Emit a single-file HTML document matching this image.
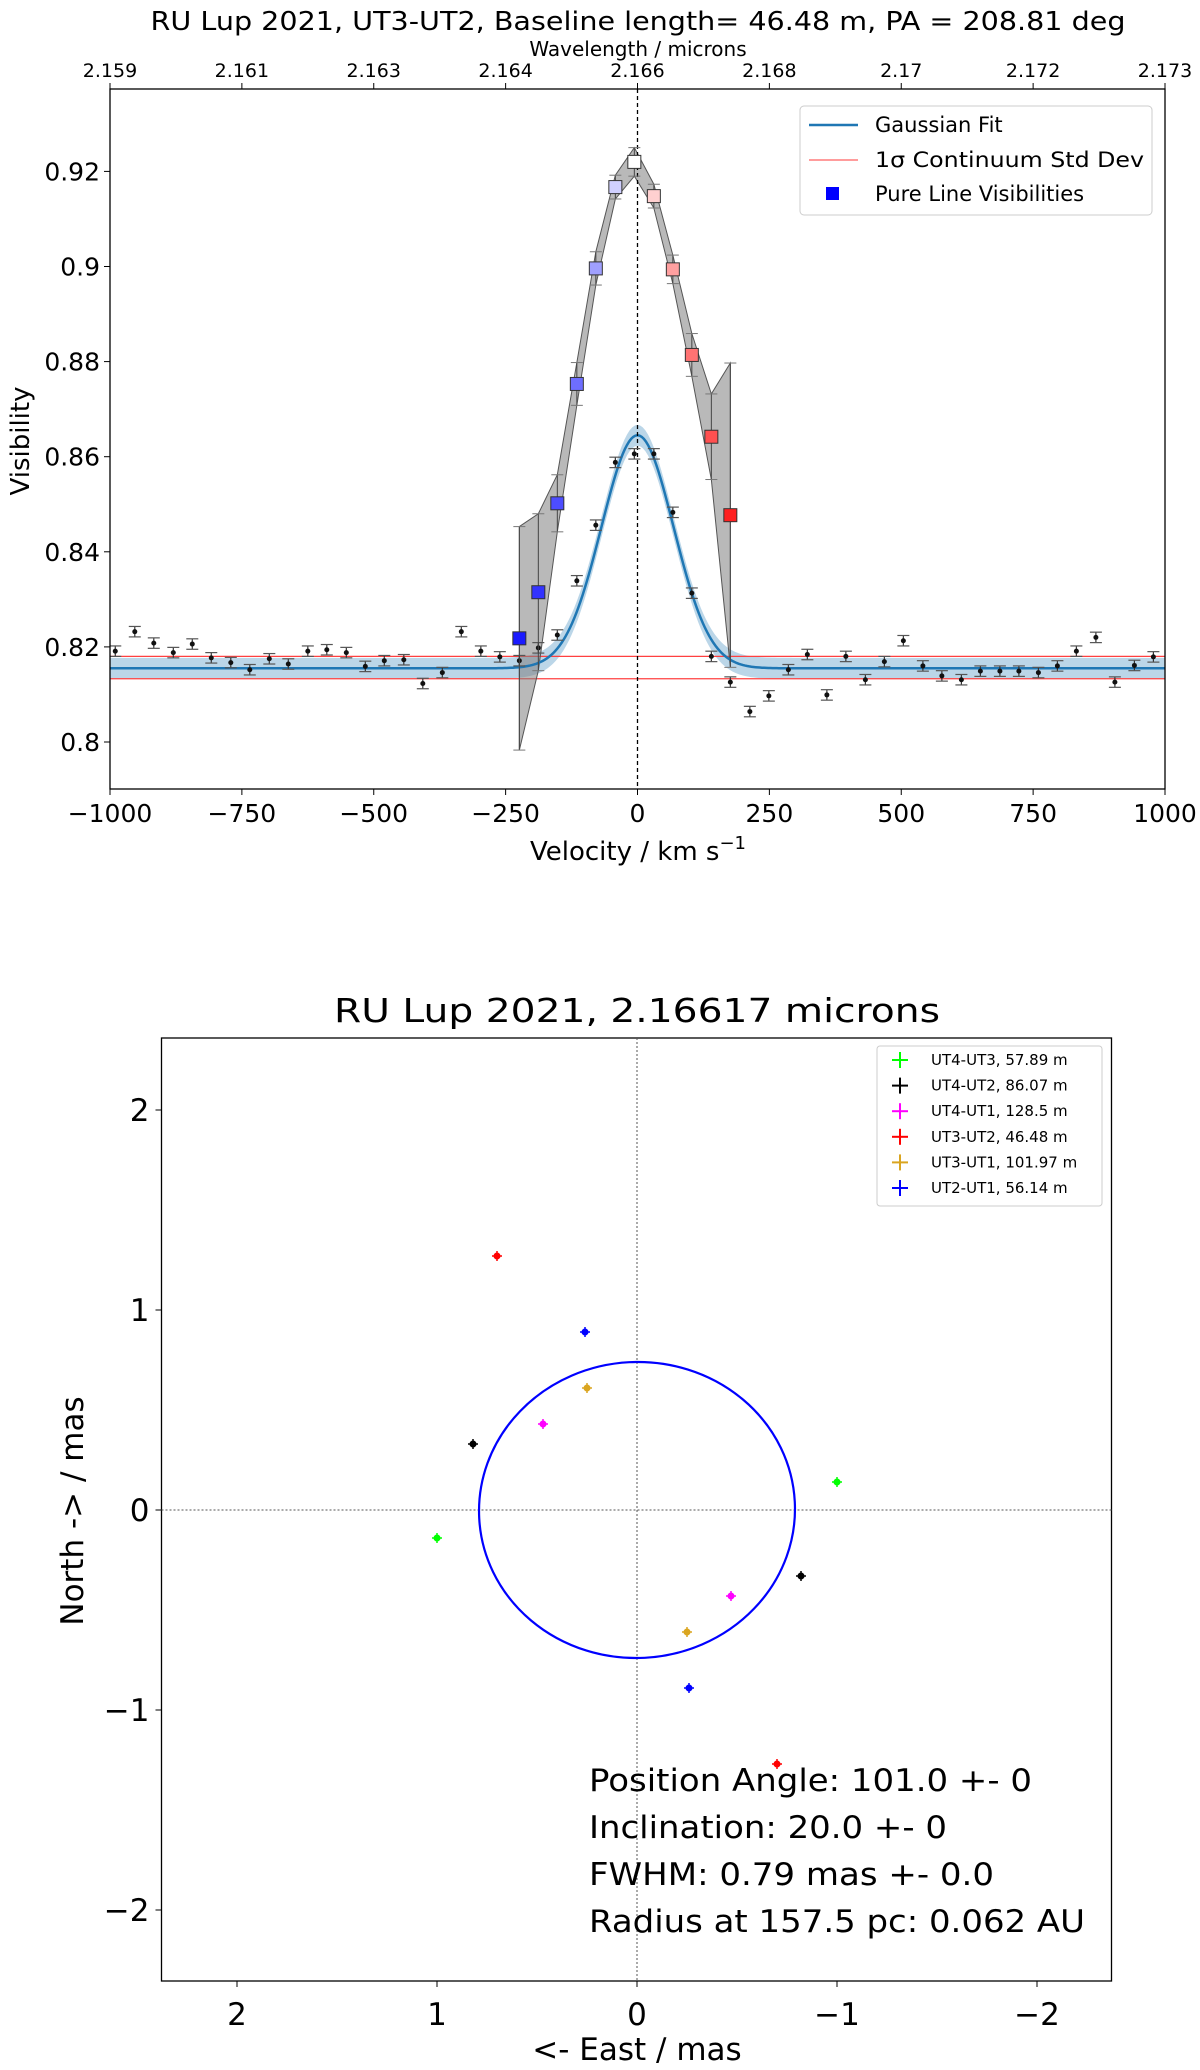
<!DOCTYPE html>
<html><head><meta charset="utf-8"><style>
html,body{margin:0;padding:0;background:#fff}
svg{display:block;font-family:"DejaVu Sans","Liberation Sans",sans-serif}
</style></head><body>
<svg id="fig" width="1200" height="2070" viewBox="0 0 1200 2070" xmlns="http://www.w3.org/2000/svg">
<g id="top"></g>
<g id="bot"></g>
</svg>
<script>
// ---- top chart data ----
const contVel = [-990,-953,-917,-880,-844,-808,-771,-735,-698,-662,-625,-589,-552,-516,-480,-443,-407,-370,-334,-297,-261,-224,-188,-152,-115,-79,-42,-6,31,67,103,140,176,213,249,286,322,359,395,432,468,504,541,577,614,650,687,723,760,796,832,869,905,942,978];
const contVis = [0.8191,0.8232,0.8208,0.8188,0.8206,0.8177,0.8167,0.8152,0.8175,0.8164,0.8191,0.8194,0.8188,0.8159,0.8171,0.8173,0.8123,0.8146,0.8232,0.8191,0.8179,0.8171,0.8198,0.8225,0.8339,0.8456,0.8588,0.8606,0.8606,0.8483,0.8313,0.8180,0.8126,0.8064,0.8097,0.8152,0.8184,0.8099,0.8180,0.8131,0.8169,0.8213,0.8160,0.8139,0.8131,0.8149,0.8149,0.8149,0.8146,0.8160,0.8191,0.8220,0.8126,0.8161,0.8179];
const contErr = 0.0011;
const lineVel = [-224,-188,-152,-115,-79,-42,-6,31,67,103,140,176];
const lineVis = [0.8218,0.8315,0.8502,0.8753,0.8996,0.9167,0.9220,0.9148,0.8994,0.8814,0.8642,0.8477];
const lineErr = [0.0235,0.0165,0.006,0.0045,0.0035,0.0025,0.003,0.0025,0.003,0.0045,0.009,0.032];
const lineColors = ['#1a1aff','#3333ff','#4d4dff','#6e6eff','#a0a0ff','#d0d0ff','#ffffff','#ffd0d0','#ffa0a0','#ff7373','#ff5050','#ff2020'];
const gaussBase = 0.8155, gaussAmp = 0.049, gaussSigma = 68.4, gaussBand = 0.0022;
const stdHi = 0.8180, stdLo = 0.8133;
const velTicks = [-1000,-750,-500,-250,0,250,500,750,1000];
const velTickLabels = ['\u22121000','\u2212750','\u2212500','\u2212250','0','250','500','750','1000'];
const waveTickLabels = ['2.159','2.161','2.163','2.164','2.166','2.168','2.17','2.172','2.173'];
const visTicks = [0.80,0.82,0.84,0.86,0.88,0.90,0.92];
const visTickLabels = ['0.8','0.82','0.84','0.86','0.88','0.9','0.92'];
// ---- bottom chart data ----
const baseNames = ['UT4-UT3, 57.89 m','UT4-UT2, 86.07 m','UT4-UT1, 128.5 m','UT3-UT2, 46.48 m','UT3-UT1, 101.97 m','UT2-UT1, 56.14 m'];
const baseColors = ['#00ff00','#000000','#ff00ff','#ff0000','#daa520','#0000ff'];
const ptEast = [-1.0,0.82,0.47,0.70,0.25,0.26];
const ptNorth = [0.14,0.33,0.43,1.27,0.61,0.89];
const ellA = 0.79, ellB = 0.74;
const posTicks = [2,1,0,-1,-2];
const posTickLabels = ['2','1','0','\u22121','\u22122'];

const NS='http://www.w3.org/2000/svg';
function mk(parent,tag,attrs,text){const e=document.createElementNS(NS,tag);for(const k in attrs)e.setAttribute(k,attrs[k]);if(text!==undefined)e.textContent=text;parent.appendChild(e);return e;}

// ===== TOP =====
const T=document.getElementById('top');
const L=110,R=1165,TP=89,BT=789;
const xV=v=>L+(v+1000)/2000*(R-L);
const yV=s=>742-(s-0.80)*4755;
let e;
e=mk(T,'text',{x:638,y:30,'font-size':26,'text-anchor':'middle',textLength:975,lengthAdjust:'spacingAndGlyphs'},'RU Lup 2021, UT3-UT2,  Baseline length= 46.48 m, PA = 208.81 deg');

e=mk(T,'text',{x:638,y:56,'font-size':20,'text-anchor':'middle'},'Wavelength / microns');

// clip
const defs=mk(T,'defs',{});const cp=mk(defs,'clipPath',{id:'c1'});mk(cp,'rect',{x:L,y:TP,width:R-L,height:BT-TP});
const P=mk(T,'g',{'clip-path':'url(#c1)'});
// std band + lines
let gb=[],gt=[];
for(let v=-1000;v<=1000;v+=5){const g=gaussBase+gaussAmp*Math.exp(-v*v/(2*gaussSigma*gaussSigma));gt.push(xV(v)+','+yV(g+gaussBand));gb.unshift(xV(v)+','+yV(g-gaussBand));}
e=mk(P,'polygon',{points:gt.concat(gb).join(' '),fill:'#1f77b4','fill-opacity':0.3});

e=mk(P,'line',{x1:L,x2:R,y1:yV(stdHi),y2:yV(stdHi),stroke:'#ff4040','stroke-width':1.2});

e=mk(P,'line',{x1:L,x2:R,y1:yV(stdLo),y2:yV(stdLo),stroke:'#ff4040','stroke-width':1.2});

// grey band
let ub=[],lb=[];
lineVel.forEach((v,i)=>{ub.push(xV(v)+','+yV(lineVis[i]+lineErr[i]));lb.unshift(xV(v)+','+yV(lineVis[i]-lineErr[i]));});
e=mk(P,'polygon',{points:ub.concat(lb).join(' '),fill:'#808080','fill-opacity':0.55,stroke:'#555','stroke-width':1});

// gaussian line
let gl=[];for(let v=-1000;v<=1000;v+=4){gl.push(xV(v)+','+yV(gaussBase+gaussAmp*Math.exp(-v*v/(2*gaussSigma*gaussSigma))));}
e=mk(P,'polyline',{points:gl.join(' '),fill:'none',stroke:'#1f77b4','stroke-width':2.5});

// dashed vertical
e=mk(P,'line',{x1:xV(0),x2:xV(0),y1:TP,y2:BT,stroke:'#000','stroke-width':1.3,'stroke-dasharray':'4,3'});

// continuum points
contVel.forEach((v,i)=>{
 const g=mk(P,'g',{});
 
 const x=xV(v),y1=yV(contVis[i]+contErr),y2=yV(contVis[i]-contErr);
 mk(g,'line',{x1:x,x2:x,y1:y1,y2:y2,stroke:'#333','stroke-width':1.2});
 mk(g,'line',{x1:x-6,x2:x+6,y1:y1,y2:y1,stroke:'#555','stroke-width':1.2});
 mk(g,'line',{x1:x-6,x2:x+6,y1:y2,y2:y2,stroke:'#555','stroke-width':1.2});
 mk(g,'circle',{cx:x,cy:yV(contVis[i]),r:2.5,fill:'#111'});
});
// line error caps + squares
lineVel.forEach((v,i)=>{
 const x=xV(v),y1=yV(lineVis[i]+lineErr[i]),y2=yV(lineVis[i]-lineErr[i]);
 const g=mk(P,'g',{});
 
 mk(g,'line',{x1:x,x2:x,y1:y1,y2:y2,stroke:'#444','stroke-width':1});
 mk(g,'line',{x1:x-6,x2:x+6,y1:y1,y2:y1,stroke:'#777','stroke-width':1});
 mk(g,'line',{x1:x-6,x2:x+6,y1:y2,y2:y2,stroke:'#777','stroke-width':1});
 mk(g,'rect',{x:x-6.5,y:yV(lineVis[i])-6.5,width:13,height:13,fill:lineColors[i],stroke:'#333','stroke-width':1});
});
// axes frame
e=mk(T,'rect',{x:L,y:TP,width:R-L,height:BT-TP,fill:'none',stroke:'#000','stroke-width':1.3});

velTicks.forEach((v,i)=>{const x=xV(v);
 mk(T,'line',{x1:x,x2:x,y1:BT,y2:BT+6,stroke:'#000'});
 mk(T,'line',{x1:x,x2:x,y1:TP,y2:TP-6,stroke:'#000'});
 e=mk(T,'text',{x:x,y:BT+33,'font-size':25,'text-anchor':'middle'},velTickLabels[i]);
 
 e=mk(T,'text',{x:x,y:TP-12,'font-size':19,'text-anchor':'middle'},waveTickLabels[i]);
 
});
visTicks.forEach((s,i)=>{const y=yV(s);
 mk(T,'line',{x1:L,x2:L-6,y1:y,y2:y,stroke:'#000'});
 e=mk(T,'text',{x:L-10,y:y+9,'font-size':25,'text-anchor':'end'},visTickLabels[i]);
 
});
e=mk(T,'text',{x:638,y:860,'font-size':26,'text-anchor':'middle'},'Velocity / km s');

mk(e,'tspan',{dy:-11,'font-size':18},'\u22121');
e=mk(T,'text',{x:0,y:0,'font-size':26,'text-anchor':'middle',transform:'translate(29,441) rotate(-90)'},'Visibility');

// legend
const LG=mk(T,'g',{});

mk(LG,'rect',{x:800,y:106,width:352,height:109,rx:4,fill:'#fff','fill-opacity':0.85,stroke:'#ccc'});
mk(LG,'line',{x1:809,x2:858,y1:125,y2:125,stroke:'#1f77b4','stroke-width':2.5});
mk(LG,'text',{x:875,y:132,'font-size':21},'Gaussian Fit');
mk(LG,'line',{x1:809,x2:858,y1:160,y2:160,stroke:'#ff6060','stroke-width':1.3});
mk(LG,'text',{x:875,y:167,'font-size':21,textLength:269,lengthAdjust:'spacingAndGlyphs'},'1\u03c3 Continuum Std Dev');
mk(LG,'rect',{x:826,y:187,width:13,height:13,fill:'#0000ff'});
mk(LG,'text',{x:875,y:201,'font-size':21},'Pure Line Visibilities');

// ===== BOTTOM =====
const B=document.getElementById('bot');
const BL=161.5,BR=1111.5,BTp=1038,BBt=1981,X0=637,Y0=1510,S=200;
const xE=v=>X0-v*S, yN=v=>Y0-v*S;
e=mk(B,'text',{x:637,y:1022,'font-size':33,'text-anchor':'middle',textLength:606,lengthAdjust:'spacingAndGlyphs'},'RU Lup 2021, 2.16617 microns');

e=mk(B,'rect',{x:BL,y:BTp,width:BR-BL,height:BBt-BTp,fill:'none',stroke:'#000','stroke-width':1.3});

e=mk(B,'line',{x1:BL,x2:BR,y1:Y0,y2:Y0,stroke:'#555','stroke-width':1,'stroke-dasharray':'2,2'});

e=mk(B,'line',{x1:X0,x2:X0,y1:BTp,y2:BBt,stroke:'#555','stroke-width':1,'stroke-dasharray':'2,2'});

e=mk(B,'ellipse',{cx:X0,cy:Y0,rx:ellA*S,ry:ellB*S,fill:'none',stroke:'#0000ff','stroke-width':2.2,transform:'rotate(-3 '+X0+' '+Y0+')'});

ptEast.forEach((ex,i)=>{
 [1,-1].forEach(sg=>{
  const x=xE(ex*sg),y=yN(ptNorth[i]*sg);
  const g=mk(B,'g',{});
  
  mk(g,'line',{x1:x-5,x2:x+5,y1:y,y2:y,stroke:baseColors[i],'stroke-width':1.5});
  mk(g,'line',{x1:x,x2:x,y1:y-5,y2:y+5,stroke:baseColors[i],'stroke-width':1.5});
  mk(g,'circle',{cx:x,cy:y,r:3.5,fill:baseColors[i]});
 });
});
posTicks.forEach((t,i)=>{
 const x=xE(t),y=yN(t);
 mk(B,'line',{x1:x,x2:x,y1:BBt,y2:BBt+6,stroke:'#000'});
 e=mk(B,'text',{x:x,y:BBt+44,'font-size':31,'text-anchor':'middle'},posTickLabels[i]);
 
 mk(B,'line',{x1:BL,x2:BL-6,y1:y,y2:y,stroke:'#000'});
 e=mk(B,'text',{x:BL-12,y:y+11,'font-size':31,'text-anchor':'end'},posTickLabels[i]);
 
});
e=mk(B,'text',{x:637,y:2060,'font-size':31,'text-anchor':'middle'},'<- East / mas');

e=mk(B,'text',{x:0,y:0,'font-size':31,'text-anchor':'middle',transform:'translate(83,1511) rotate(-90)'},'North -> / mas');

const ann=['Position Angle: 101.0 +- 0','Inclination: 20.0 +- 0','FWHM: 0.79 mas +- 0.0','Radius at 157.5 pc: 0.062 AU'];
const annW=[443,358,405,496];
ann.forEach((s,i)=>{
 e=mk(B,'text',{x:589,y:1791+i*47,'font-size':31,textLength:annW[i],lengthAdjust:'spacingAndGlyphs'},s);
 
});
const BG=mk(B,'g',{});

mk(BG,'rect',{x:877,y:1046,width:225,height:160,rx:3,fill:'#fff','fill-opacity':0.85,stroke:'#ccc'});
baseNames.forEach((n,i)=>{
 const y=1060+i*25.6;
 mk(BG,'line',{x1:892,x2:908,y1:y,y2:y,stroke:baseColors[i],'stroke-width':2});
 mk(BG,'line',{x1:900,x2:900,y1:y-8,y2:y+8,stroke:baseColors[i],'stroke-width':2});
 const t=mk(BG,'text',{x:931,y:y+5,'font-size':15},n);
 
 
});
</script>
</body></html>
